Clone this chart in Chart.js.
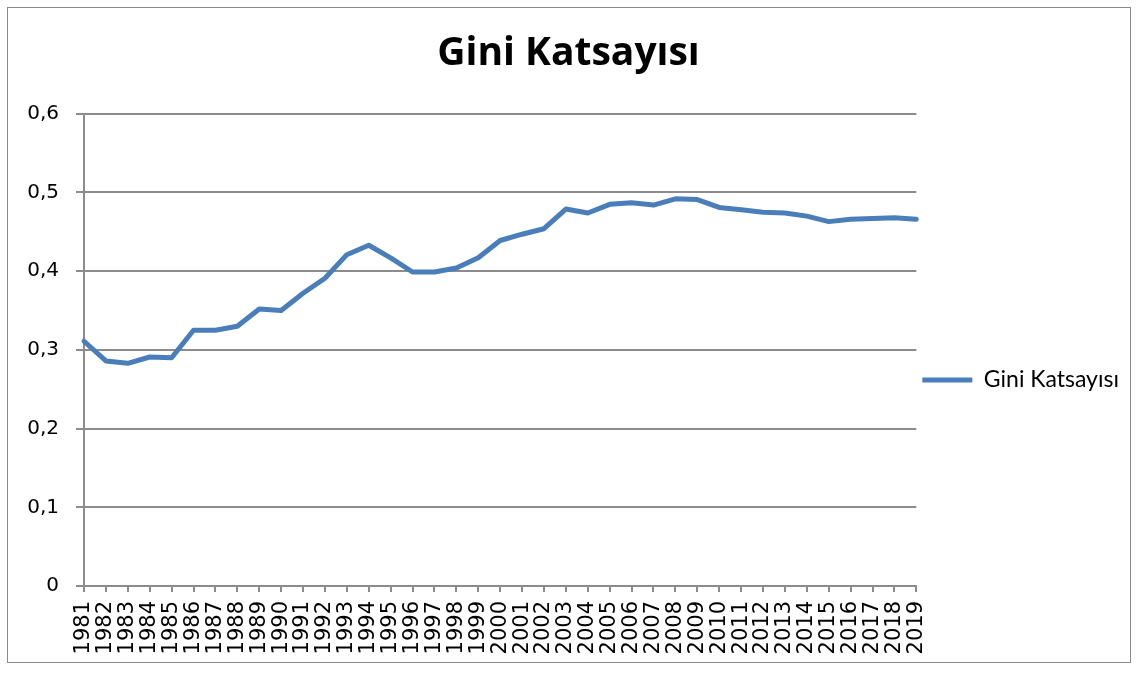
<!DOCTYPE html>
<html>
<head>
<meta charset="utf-8">
<script src="https://cdn.jsdelivr.net/npm/chart.js@4.4.0/dist/chart.umd.min.js"></script>
<style>
  html, body { margin: 0; padding: 0; background: #fff; }
  .frame {
    position: absolute; left: 7px; top: 7px;
    width: 1124px; height: 656px;
    box-sizing: border-box;
    border: 1px solid #8a8a8a;
  }
  .frame canvas { display: block; }
</style>
</head>
<body>
<div class="frame"><canvas id="gini" width="1122" height="654"></canvas></div>
<script>
// yillar ve gini degerleri
var years = ['1981','1982','1983','1984','1985','1986','1987','1988','1989','1990',
             '1991','1992','1993','1994','1995','1996','1997','1998','1999','2000',
             '2001','2002','2003','2004','2005','2006','2007','2008','2009','2010',
             '2011','2012','2013','2014','2015','2016','2017','2018','2019'];
var gini = [0.311,0.286,0.283,0.291,0.290,0.325,0.325,0.330,0.352,0.350,
            0.372,0.391,0.421,0.433,0.417,0.399,0.399,0.404,0.417,0.439,
            0.447,0.454,0.479,0.474,0.485,0.487,0.484,0.492,0.491,0.481,
            0.478,0.475,0.474,0.470,0.463,0.466,0.467,0.468,0.466];
var yTicks = [0, 0.1, 0.2, 0.3, 0.4, 0.5, 0.6];
var seriesName = 'Gini Katsayısı';

var gray = '#8c8c8c';

// legend'i biraz asagi kaydir (Excel'deki gibi)
var legendShift = {
	id: 'legendShift',
	afterLayout: function(chart){
		var lg = chart.legend;
		if (!lg) return;
		lg.top += 45;
		lg.bottom += 45;
	}
};

new Chart(document.getElementById('gini'), {
	type: 'line',
	data: {
		labels: years,
		datasets: [{
			label: seriesName,
			data: gini,
			borderColor: '#4a7ebb',
			backgroundColor: '#4a7ebb',
			borderWidth: 5,
			borderCapStyle: 'round',
			borderJoinStyle: 'round',
			pointRadius: 0,
			tension: 0,
			fill: false
		}]
	},
	options: {
		responsive: false,
		animation: false,
		layout: { padding: { left: 0, right: 1, top: 0, bottom: 0 } },
		plugins: {
			title: {
				display: true,
				text: seriesName,
				color: '#000',
				font: { family: 'Open Sans', size: 39, weight: 'bold', lineHeight: 1.2 },
				padding: { top: 22, bottom: 37 }
			},
			legend: {
				position: 'right',
				labels: {
					color: '#000',
					font: { family: 'Lato', size: 23 },
					usePointStyle: true,
					pointStyle: 'line',
					pointStyleWidth: 50,
					padding: 6
				}
			},
			tooltip: { enabled: false }
		},
		scales: {
			x: {
				offset: false,
				grid: {
					display: true,
					drawOnChartArea: false,
					drawTicks: true,
					tickLength: 6,
					color: gray,
					lineWidth: 2
				},
				border: { display: true, color: gray, width: 2 },
				ticks: {
					autoSkip: false,
					minRotation: 90,
					maxRotation: 90,
					padding: 9,
					color: '#000',
					font: { family: 'DejaVu Sans', size: 21 }
				},
				afterFit: function(scale){ scale.height = 76; }
			},
			y: {
				min: 0,
				max: 0.6,
				afterBuildTicks: function(scale){
					scale.ticks = yTicks.map(function(v){ return { value: v }; });
				},
				grid: {
					color: gray,
					lineWidth: 2,
					drawTicks: true,
					tickLength: 8
				},
				border: { display: true, color: gray, width: 2 },
				ticks: {
					padding: 17,
					color: '#000',
					font: { family: 'DejaVu Sans', size: 20 },
					callback: function(v){
						return v === 0 ? '0' : v.toFixed(1).replace('.', ',');
					}
				},
				afterFit: function(scale){ scale.width = 76; }
			}
		}
	},
	plugins: [legendShift]
});
</script>
</body>
</html>
